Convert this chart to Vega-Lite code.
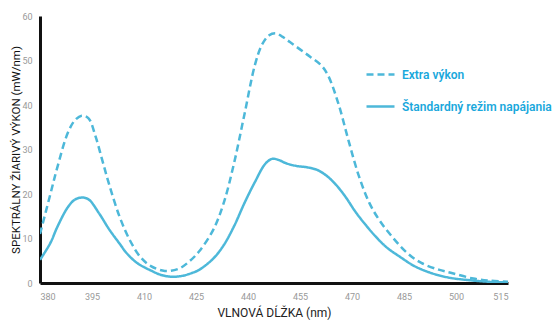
{
  "$schema": "https://vega.github.io/schema/vega-lite/v6.json",
  "width": 468,
  "height": 267,
  "autosize": {"type": "none"},
  "padding": {"left": 40, "top": 16, "right": 44, "bottom": 37},
  "background": "white",
  "config": {"view": {"stroke": null}, "font": "Roboto"},
  "datasets": {
    "spec": [
      {"nm": 380, "v": 11, "s": "Extra výkon"},
      {"nm": 383, "v": 20, "s": "Extra výkon"},
      {"nm": 385, "v": 26, "s": "Extra výkon"},
      {"nm": 388, "v": 33.7, "s": "Extra výkon"},
      {"nm": 390, "v": 36.5, "s": "Extra výkon"},
      {"nm": 392, "v": 37.6, "s": "Extra výkon"},
      {"nm": 394, "v": 37, "s": "Extra výkon"},
      {"nm": 396, "v": 33, "s": "Extra výkon"},
      {"nm": 398, "v": 27.5, "s": "Extra výkon"},
      {"nm": 400, "v": 22, "s": "Extra výkon"},
      {"nm": 403, "v": 14.8, "s": "Extra výkon"},
      {"nm": 406, "v": 9.5, "s": "Extra výkon"},
      {"nm": 409, "v": 5.8, "s": "Extra výkon"},
      {"nm": 412, "v": 3.8, "s": "Extra výkon"},
      {"nm": 416, "v": 2.7, "s": "Extra výkon"},
      {"nm": 420, "v": 3.2, "s": "Extra výkon"},
      {"nm": 423, "v": 4.8, "s": "Extra výkon"},
      {"nm": 426, "v": 7.2, "s": "Extra výkon"},
      {"nm": 430, "v": 12, "s": "Extra výkon"},
      {"nm": 433, "v": 18, "s": "Extra výkon"},
      {"nm": 436, "v": 27, "s": "Extra výkon"},
      {"nm": 439, "v": 38, "s": "Extra výkon"},
      {"nm": 442, "v": 49, "s": "Extra výkon"},
      {"nm": 444, "v": 53.5, "s": "Extra výkon"},
      {"nm": 446, "v": 55.6, "s": "Extra výkon"},
      {"nm": 448, "v": 56.1, "s": "Extra výkon"},
      {"nm": 450, "v": 55.3, "s": "Extra výkon"},
      {"nm": 452, "v": 54.2, "s": "Extra výkon"},
      {"nm": 455, "v": 52.5, "s": "Extra výkon"},
      {"nm": 458, "v": 50.8, "s": "Extra výkon"},
      {"nm": 461, "v": 49, "s": "Extra výkon"},
      {"nm": 463, "v": 46.8, "s": "Extra výkon"},
      {"nm": 466, "v": 40.5, "s": "Extra výkon"},
      {"nm": 469, "v": 32, "s": "Extra výkon"},
      {"nm": 472, "v": 24, "s": "Extra výkon"},
      {"nm": 475, "v": 18, "s": "Extra výkon"},
      {"nm": 478, "v": 14, "s": "Extra výkon"},
      {"nm": 482, "v": 10, "s": "Extra výkon"},
      {"nm": 486, "v": 6.7, "s": "Extra výkon"},
      {"nm": 490, "v": 4.5, "s": "Extra výkon"},
      {"nm": 495, "v": 3, "s": "Extra výkon"},
      {"nm": 499, "v": 2.2, "s": "Extra výkon"},
      {"nm": 505, "v": 1, "s": "Extra výkon"},
      {"nm": 510, "v": 0.5, "s": "Extra výkon"},
      {"nm": 515, "v": 0.3, "s": "Extra výkon"},
      {"nm": 380, "v": 5.2, "s": "Štandardný režim napájania"},
      {"nm": 383, "v": 9, "s": "Štandardný režim napájania"},
      {"nm": 385, "v": 12.6, "s": "Štandardný režim napájania"},
      {"nm": 388, "v": 17, "s": "Štandardný režim napájania"},
      {"nm": 390, "v": 18.7, "s": "Štandardný režim napájania"},
      {"nm": 392, "v": 19.2, "s": "Štandardný režim napájania"},
      {"nm": 394, "v": 18.8, "s": "Štandardný režim napájania"},
      {"nm": 397, "v": 15.7, "s": "Štandardný režim napájania"},
      {"nm": 400, "v": 12, "s": "Štandardný režim napájania"},
      {"nm": 403, "v": 8.8, "s": "Štandardný režim napájania"},
      {"nm": 405, "v": 6.7, "s": "Štandardný režim napájania"},
      {"nm": 408, "v": 4.5, "s": "Štandardný režim napájania"},
      {"nm": 412, "v": 2.8, "s": "Štandardný režim napájania"},
      {"nm": 415, "v": 1.8, "s": "Štandardný režim napájania"},
      {"nm": 418, "v": 1.4, "s": "Štandardný režim napájania"},
      {"nm": 421, "v": 1.6, "s": "Štandardný režim napájania"},
      {"nm": 424, "v": 2.3, "s": "Štandardný režim napájania"},
      {"nm": 426, "v": 3, "s": "Štandardný režim napájania"},
      {"nm": 430, "v": 5.5, "s": "Štandardný režim napájania"},
      {"nm": 433, "v": 8.5, "s": "Štandardný režim napájania"},
      {"nm": 436, "v": 12.8, "s": "Štandardný režim napájania"},
      {"nm": 439, "v": 18, "s": "Štandardný režim napájania"},
      {"nm": 442, "v": 22.7, "s": "Štandardný režim napájania"},
      {"nm": 445, "v": 26.8, "s": "Štandardný režim napájania"},
      {"nm": 447, "v": 27.9, "s": "Štandardný režim napájania"},
      {"nm": 449, "v": 27.6, "s": "Štandardný režim napájania"},
      {"nm": 451, "v": 26.9, "s": "Štandardný režim napájania"},
      {"nm": 454, "v": 26.3, "s": "Štandardný režim napájania"},
      {"nm": 457, "v": 26, "s": "Štandardný režim napájania"},
      {"nm": 460, "v": 25.4, "s": "Štandardný režim napájania"},
      {"nm": 462.5, "v": 24.2, "s": "Štandardný režim napájania"},
      {"nm": 465, "v": 22.4, "s": "Štandardný režim napájania"},
      {"nm": 468, "v": 19.5, "s": "Štandardný režim napájania"},
      {"nm": 471, "v": 16, "s": "Štandardný režim napájania"},
      {"nm": 474, "v": 13, "s": "Štandardný režim napájania"},
      {"nm": 477, "v": 10.3, "s": "Štandardný režim napájania"},
      {"nm": 480, "v": 8, "s": "Štandardný režim napájania"},
      {"nm": 484, "v": 5.8, "s": "Štandardný režim napájania"},
      {"nm": 488, "v": 3.8, "s": "Štandardný režim napájania"},
      {"nm": 493, "v": 2.2, "s": "Štandardný režim napájania"},
      {"nm": 498, "v": 1.2, "s": "Štandardný režim napájania"},
      {"nm": 503, "v": 0.7, "s": "Štandardný režim napájania"},
      {"nm": 509, "v": 0.3, "s": "Štandardný režim napájania"},
      {"nm": 515, "v": 0.1, "s": "Štandardný režim napájania"}
    ]
  },
  "data": {"name": "spec"},
  "mark": {"type": "line", "interpolate": "catmull-rom", "strokeWidth": 2.5, "clip": true},
  "encoding": {
    "x": {
      "field": "nm", "type": "quantitative",
      "scale": {"domain": [380, 515], "nice": false, "zero": false},
      "axis": {
        "values": [380, 395, 410, 425, 440, 455, 470, 485, 500, 515],
        "grid": false, "ticks": false,
        "domainColor": "#111", "domainWidth": 3,
        "labelColor": "#999", "labelFontSize": 9, "labelPadding": 9,
        "labelFont": "Roboto",
        "title": "VLNOVÁ DĹŽKA (nm)",
        "titleFont": "Roboto", "titleFontSize": 12, "titleFontWeight": "normal",
        "titleColor": "#222", "titlePadding": 6
      }
    },
    "y": {
      "field": "v", "type": "quantitative",
      "scale": {"domain": [0, 60], "nice": false},
      "axis": {
        "values": [0, 10, 20, 30, 40, 50, 60],
        "grid": false, "ticks": false,
        "domainColor": "#111", "domainWidth": 3,
        "labelColor": "#999", "labelFontSize": 9, "labelPadding": 8,
        "labelFont": "Roboto",
        "title": "SPEKTRÁLNY ŽIARIVÝ VÝKON (mW/nm)",
        "titleFont": "Roboto", "titleFontSize": 11.5, "titleFontWeight": "normal",
        "titleColor": "#111", "titlePadding": 0
      }
    },
    "color": {
      "field": "s", "type": "nominal",
      "scale": {"domain": ["Extra výkon", "Štandardný režim napájania"], "range": ["#4db8d9", "#4db8d9"]},
      "legend": {
        "title": null, "orient": "none", "legendX": 325, "legendY": 43,
        "symbolType": "stroke", "symbolSize": 784, "symbolStrokeWidth": 2.5,
        "labelFontSize": 12, "labelFontWeight": 600, "labelColor": "#1aa8dc",
        "labelFont": "Roboto", "labelOffset": 6, "rowPadding": 10
      }
    },
    "strokeDash": {
      "field": "s", "type": "nominal",
      "scale": {"domain": ["Extra výkon", "Štandardný režim napájania"], "range": [[7, 4], [1, 0]]},
      "legend": {
        "title": null, "orient": "none", "legendX": 325, "legendY": 43,
        "symbolType": "stroke", "symbolSize": 784, "symbolStrokeWidth": 2.5,
        "labelFontSize": 12, "labelFontWeight": 600, "labelColor": "#1aa8dc",
        "labelFont": "Roboto", "labelOffset": 6, "rowPadding": 10
      }
    }
  }
}
